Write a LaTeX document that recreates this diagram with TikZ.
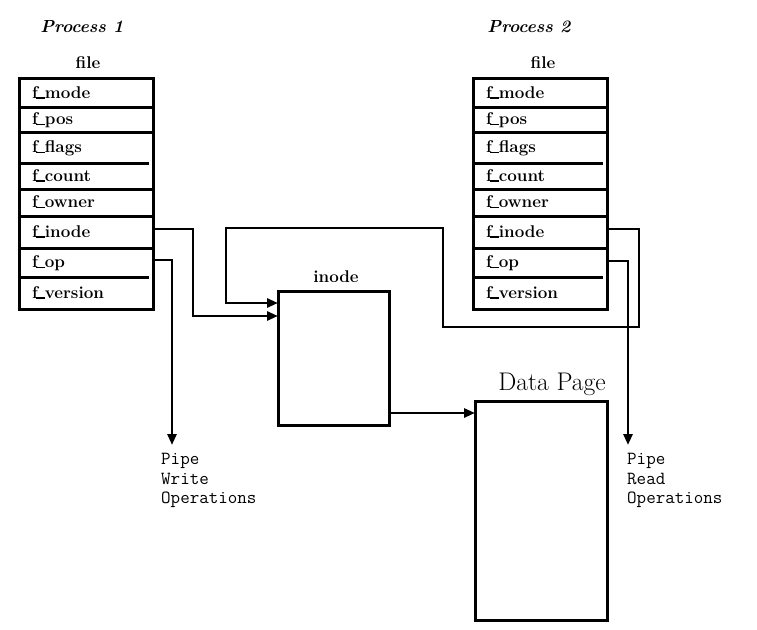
\documentclass[tikz,border=0pt]{standalone}
\usepackage{fontspec}
\usetikzlibrary{arrows.meta}
\newcommand\us{\kern-1.5pt\rule[-0.6pt]{9pt}{1.7pt}\kern-0.5pt}
\begin{document}
\begin{tikzpicture}[x=1pt,y=-1pt,
  frame/.style={line width=3pt},
  row/.style={inner xsep=12pt, inner ysep=0pt, text width=109pt, minimum width=133pt, align=left,
     text height=11.5pt, text depth=1pt, font=\fontsize{17}{19}\selectfont\bfseries},
  lbl/.style={inner sep=0pt, font=\fontsize{17}{19}\selectfont\bfseries},
  proc/.style={inner sep=0pt, font=\fontsize{17.5}{20}\selectfont\bfseries\itshape},
  pipe/.style={inner sep=0pt, align=left, anchor=north west, font=\fontsize{18.5}{19.5}\selectfont\ttfamily},
  conn/.style={line width=2.8pt},
  arr/.style={conn, -{Triangle[length=11pt,width=9pt]}},
  box/.style={draw, line width=3pt, inner sep=0pt, outer sep=0pt}
]
\useasboundingbox (0,0) rectangle (757,629);

% ---- Process 1 ----
\node[proc] (proc1) at (82,27) {Process 1};
\node[lbl] (file1) at (88,63) {file};
\node[row, minimum height=28pt] (p1mode)    at (86.5,93)   {f\us mode};
\node[row, minimum height=25pt] (p1pos)     at (86.5,119.5){f\us pos};
\node[row, minimum height=31pt] (p1flags)   at (86.5,147.5){f\us flags};
\node[row, minimum height=26pt] (p1count)   at (86.5,176)  {f\us count};
\node[row, minimum height=27pt] (p1owner)   at (86.5,202.5){f\us owner};
\node[row, minimum height=32pt] (p1inode)   at (86.5,232)  {f\us inode};
\node[row, minimum height=29pt] (p1op)      at (86.5,262.5){f\us op};
\node[row, minimum height=32pt] (p1version) at (86.5,293)  {f\us version};
\draw[frame] (p1mode.north west) rectangle (p1version.south east);
\foreach \r in {p1mode,p1pos,p1count,p1owner,p1inode}
  \draw[frame] (\r.south west) -- (\r.south east);
\foreach \r in {p1flags,p1op}
  \draw[frame] (\r.south west) -- ([xshift=-4pt]\r.south east);

% ---- Process 2 ----
\node[proc] (proc2) at (529,27) {Process 2};
\node[lbl] (file2) at (543,63) {file};
\node[row, minimum height=28pt] (p2mode)    at (540.5,93)   {f\us mode};
\node[row, minimum height=25pt] (p2pos)     at (540.5,119.5){f\us pos};
\node[row, minimum height=31pt] (p2flags)   at (540.5,147.5){f\us flags};
\node[row, minimum height=26pt] (p2count)   at (540.5,176)  {f\us count};
\node[row, minimum height=27pt] (p2owner)   at (540.5,202.5){f\us owner};
\node[row, minimum height=32pt] (p2inode)   at (540.5,232)  {f\us inode};
\node[row, minimum height=29pt] (p2op)      at (540.5,262.5){f\us op};
\node[row, minimum height=32pt] (p2version) at (540.5,293)  {f\us version};
\draw[frame] (p2mode.north west) rectangle (p2version.south east);
\foreach \r in {p2mode,p2pos,p2count,p2owner,p2inode}
  \draw[frame] (\r.south west) -- (\r.south east);
\foreach \r in {p2flags,p2op}
  \draw[frame] (\r.south west) -- ([xshift=-4pt]\r.south east);

% ---- inode and data page ----
\node[box, minimum width=111pt, minimum height=134pt] (inode) at (333.5,358) {};
\node[lbl] (inodelbl) at (336,277) {inode};
\node[box, minimum width=132pt, minimum height=219pt] (data) at (541,510.5) {};
\node[inner sep=0pt, font=\fontsize{25.5}{27}\selectfont] (datalbl) at (552,384) {Data Page};

% ---- pipe texts ----
\node[pipe] (pipew) at (161,453) {Pipe\\Write\\Operations};
\node[pipe] (piper) at (627,453) {Pipe\\Read\\Operations};
\coordinate (wend) at (172,445);
\coordinate (rend) at (628,445);

% ---- connectors ----
\draw[arr] ([yshift=3pt]p1inode.east) -| (193,316) -- (inode.west |- 0,316);
\draw[arr] ([yshift=2.5pt]p1op.east) -| (wend);
\draw[arr] ([yshift=3pt]p2inode.east) -| (639,327) -| (443,228) -| (226,303) -- (inode.west |- 0,303);
\draw[arr] ([yshift=1.5pt]p2op.east) -| (rend);
\coordinate (ie) at ([yshift=-55pt]inode.east);
\draw[arr] (ie) -- (ie -| data.west);
\end{tikzpicture}
\end{document}
